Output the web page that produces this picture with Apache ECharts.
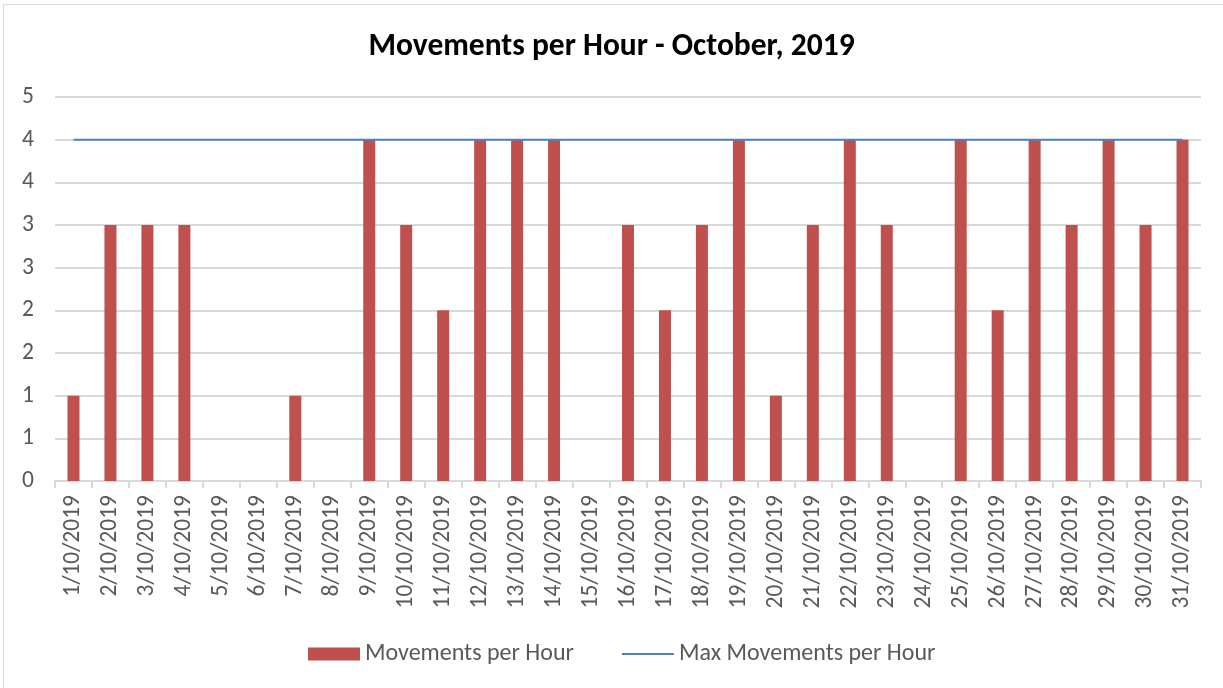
<!DOCTYPE html>
<html>
<head>
<meta charset="utf-8">
<script src="https://cdn.jsdelivr.net/npm/echarts@6/dist/echarts.min.js"></script>
<style>
  html, body { margin: 0; padding: 0; background: #fff; }
  #frame { position: absolute; left: 3px; top: 4px; width: 1222px; height: 690px; border: 1px solid #d9d9d9; box-sizing: border-box; }
  #chart { position: absolute; left: 0; top: 0; width: 1223px; height: 688px; }
</style>
</head>
<body>
<div id="frame"></div>
<div id="chart"></div>
<script>
// dates of October 2019
const days = []
for (let d = 1; d <= 31; d++) days.push(d + '/10/2019')

// movements per hour
const movements = [1, 3, 3, 3, 0, 0, 1, 0, 4, 3, 2, 4, 4, 4, 0, 3, 2, 3, 4, 1, 3, 4, 3, 0, 4, 2, 4, 3, 4, 3, 4]
// max movements per hour (flat limit)
const maxMovements = days.map(() => 4)

const font = 'Carlito, Calibri, Lato, sans-serif'

const chart = echarts.init(document.getElementById('chart'))
chart.setOption({
  animation: false,
  title: {
    text: 'Movements per Hour - October, 2019',
    left: 'center',
    top: 26,
    textStyle: { fontFamily: font, fontSize: 31.5, fontWeight: 'bold', color: '#000' }
  },
  legend: {
    top: 637,
    left: 303,
    itemGap: 48,
    itemWidth: 52,
    itemHeight: 13,
    textStyle: { fontFamily: font, fontSize: 24, color: '#595959' },
    data: [
      { name: 'Movements per Hour', icon: 'rect' },
      { name: 'Max Movements per Hour', icon: 'path://M0,0 L52,0 L52,2 L0,2 Z' }
    ]
  },
  grid: { left: 55, right: 22, top: 97, bottom: 207 },
  xAxis: {
    type: 'category',
    data: days,
    axisLine: { lineStyle: { color: '#d9d9d9', width: 2 } },
    axisTick: { show: true, length: 7, lineStyle: { color: '#d9d9d9', width: 2 } },
    axisLabel: { rotate: 90, interval: 0, fontFamily: font, fontSize: 23.5, color: '#595959', margin: 14 }
  },
  yAxis: {
    type: 'value',
    min: 0,
    max: 4.5,
    interval: 0.5,
    axisLine: { show: false },
    axisTick: { show: false },
    splitLine: { lineStyle: { color: '#d9d9d9', width: 2 } },
    axisLabel: {
      fontFamily: font, fontSize: 23.5, color: '#595959', margin: 21,
      formatter: v => String(Math.round(v + 1e-9))
    }
  },
  series: [
    {
      name: 'Movements per Hour',
      type: 'bar',
      data: movements,
      barWidth: 12,
      itemStyle: { color: '#c0504d' }
    },
    {
      name: 'Max Movements per Hour',
      type: 'line',
      data: maxMovements,
      symbol: 'none',
      lineStyle: { color: '#4f81bd', width: 2 },
      itemStyle: { color: '#4f81bd' }
    }
  ]
})
</script>
</body>
</html>
